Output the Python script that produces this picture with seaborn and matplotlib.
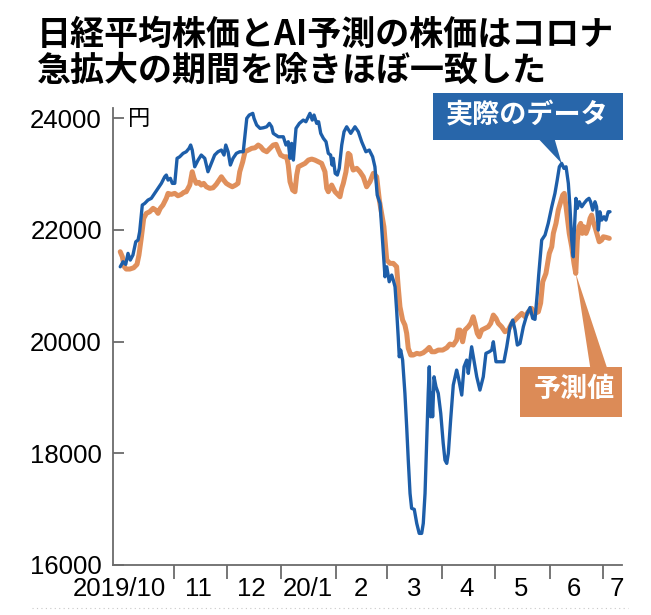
import numpy as np
import pandas as pd
import matplotlib
matplotlib.use("Agg")
import matplotlib.pyplot as plt
import matplotlib.dates as mdates
import matplotlib.transforms as mtransforms
from matplotlib.patches import Rectangle
from matplotlib.lines import Line2D
import seaborn as sns

sns.set_theme(style="white")
plt.rcParams['font.family'] = ['Noto Sans CJK JP', 'DejaVu Sans']

# ---------------- data ----------------
START = '2019-10-01'   # day 0 of the day offsets below

actual_day = [0.7, 2.3, 3.8, 5.1, 6.4, 7.9, 9.5, 10.8, 11.7, 13.2,
              14.6, 16.4, 18.3, 20.2, 22.1, 24.0, 25.9, 26.8, 27.8, 29.1,
              30.2, 31.6, 32.9, 34.4, 36.3, 38.1, 39.7, 40.6, 41.5, 42.9,
              44.8, 46.6, 48.6, 50.4, 52.3, 54.2, 56.1, 58.0, 59.5, 60.5,
              61.8, 63.1, 64.6, 66.5, 68.4, 70.4, 72.4, 73.8, 75.8, 76.5,
              78.0, 79.9, 81.8, 83.7, 85.2, 86.5, 87.4, 90.3, 93.1, 94.6,
              95.9, 96.9, 97.8, 98.8, 100.3, 102.2, 104.4, 105.9, 108.2, 109.5,
              110.5, 112.0, 113.1, 114.3, 115.8, 117.3, 118.6, 119.9, 120.7, 121.4,
              122.5, 123.7, 124.8, 126.2, 127.5, 129.0, 131.3, 133.7, 135.6, 137.5,
              139.9, 141.8, 143.7, 145.0, 146.3, 147.9, 148.8, 150.1, 150.7, 151.7,
              153.1, 154.5, 155.4, 156.4, 157.3, 158.2, 158.8, 159.6, 160.7, 162.0,
              163.0, 163.9, 164.9, 165.8, 167.3, 168.7, 170.1, 171.5, 172.4, 173.4,
              174.3, 175.2, 175.8, 176.6, 177.2, 177.7, 178.5, 179.6, 180.9, 182.3,
              183.7, 184.7, 185.7, 186.6, 187.9, 189.4, 191.3, 192.2, 194.2, 195.5,
              197.0, 197.9, 199.8, 201.1, 202.7, 204.5, 206.4, 207.9, 209.8, 211.2,
              212.1, 213.6, 215.9, 218.1, 219.7, 221.5, 223.1, 224.4, 225.7, 227.2,
              229.1, 231.3, 232.9, 234.4, 235.7, 237.0, 237.8, 239.5, 241.4, 243.2,
              245.2, 247.0, 248.3, 249.5, 250.8, 252.1, 253.3, 254.6, 255.5, 256.5,
              257.4, 258.0, 258.9, 259.7, 260.8, 262.2, 263.5, 265.0, 266.3, 267.2,
              268.4, 269.7, 270.6, 271.6, 272.5, 273.5, 274.8, 275.9, 277.2, 278.2]

actual_val = [21338, 21428, 21381, 21578, 21458, 21548, 21786, 21816, 21965, 22443,
              22473, 22532, 22563, 22652, 22742, 22831, 22949, 22980, 22890, 22921,
              22831, 22831, 23279, 23307, 23368, 23397, 23458, 23517, 23427, 23128,
              23248, 23338, 23279, 23039, 23189, 23338, 23397, 23427, 23338, 23517,
              23397, 23159, 23279, 23368, 23397, 23397, 23995, 24054, 24084, 23995,
              23875, 23816, 23826, 23844, 23905, 23844, 23726, 23665, 23665, 23517,
              23576, 23279, 23547, 23248, 23816, 23905, 23964, 23934, 24084, 23964,
              24054, 23905, 23934, 23726, 23637, 23576, 23368, 23338, 23159, 23279,
              23010, 22980, 23100, 23517, 23755, 23844, 23726, 23844, 23755, 23576,
              23397, 23427, 23307, 23128, 22622, 22473, 22054, 21458, 21159, 21338,
              21070, 21190, 21100, 20980, 20563, 20085, 19727, 19847, 19668, 19072,
              18474, 17878, 17282, 17014, 16996, 16745, 16566, 16566, 16745, 17282,
              18177, 19072, 19548, 18653, 19072, 18653, 19369, 19190, 19072, 18714,
              18177, 17878, 17819, 17998, 18594, 19221, 19489, 19369, 19042, 19548,
              19668, 19430, 19906, 19668, 19369, 19131, 19369, 19788, 19817, 19847,
              19996, 19638, 19638, 19638, 19906, 20264, 20384, 20205, 19937, 19966,
              20264, 20504, 20608, 20415, 20397, 20862, 21190, 21816, 21906, 22115,
              22412, 22652, 22890, 23128, 23189, 23100, 23128, 22831, 22412, 21816,
              21517, 21995, 22563, 22384, 22502, 22412, 22473, 22532, 22563, 22502,
              22353, 22502, 22412, 21995, 22323, 22174, 22233, 22174, 22323, 22323]

pred_day = [0.7, 1.9, 3.0, 4.1, 6.1, 8.3, 10.2, 11.3, 12.6, 14.0,
            15.5, 17.4, 19.3, 20.8, 22.1, 23.4, 24.9, 26.8, 27.8, 29.6,
            31.6, 33.4, 35.3, 36.7, 38.1, 40.1, 41.5, 42.5, 43.8, 45.3,
            46.6, 48.0, 49.5, 51.4, 53.3, 55.1, 56.7, 58.0, 59.3, 60.8,
            62.3, 64.2, 66.1, 67.4, 68.4, 70.1, 71.4, 73.3, 75.2, 77.1,
            78.9, 80.3, 81.8, 83.7, 85.6, 87.4, 89.0, 90.3, 91.6, 93.5,
            95.0, 95.9, 96.9, 98.4, 99.7, 100.7, 101.6, 103.5, 105.4, 107.3,
            109.2, 111.0, 112.9, 114.8, 116.7, 117.7, 118.6, 120.5, 122.4, 124.2,
            125.2, 126.2, 127.1, 128.6, 129.9, 130.9, 131.8, 132.7, 134.7, 136.5,
            138.4, 140.3, 142.2, 144.1, 146.0, 147.5, 148.8, 150.1, 151.7, 153.5,
            155.4, 157.3, 158.2, 159.2, 160.7, 162.0, 163.0, 163.9, 165.3, 166.7,
            168.7, 170.5, 172.4, 174.3, 175.8, 177.2, 179.0, 180.9, 183.4, 185.7,
            187.5, 189.4, 191.3, 192.2, 193.2, 194.7, 196.0, 197.9, 199.3, 200.7,
            201.7, 203.0, 204.1, 205.5, 207.4, 209.2, 210.6, 212.1, 213.6, 214.9,
            216.8, 218.7, 220.6, 222.5, 224.4, 226.2, 228.2, 230.0, 231.9, 233.8,
            235.7, 237.6, 238.9, 240.1, 241.9, 243.8, 245.2, 246.1, 247.6, 248.9,
            250.3, 251.4, 252.3, 253.3, 254.2, 255.1, 256.5, 257.8, 258.8, 259.7,
            260.6, 261.6, 262.5, 263.5, 264.6, 265.7, 266.9, 267.8, 268.7, 269.9,
            271.0, 272.1, 273.5, 274.4, 275.9, 277.8]

pred_val = [21607, 21517, 21338, 21297, 21297, 21320, 21381, 21548, 21847, 22205,
            22294, 22323, 22384, 22353, 22294, 22384, 22443, 22563, 22652, 22634,
            22652, 22609, 22634, 22670, 22681, 22801, 23039, 22921, 22831, 22849,
            22801, 22831, 22770, 22742, 22752, 22813, 22890, 22949, 22890, 22831,
            22801, 22770, 22801, 22831, 23039, 23218, 23397, 23427, 23458, 23468,
            23517, 23486, 23427, 23397, 23458, 23517, 23529, 23427, 23338, 23307,
            23307, 23159, 22860, 22711, 22681, 22980, 23128, 23159, 23189, 23248,
            23266, 23248, 23218, 23189, 23039, 22742, 22681, 22801, 22681, 22622,
            22591, 22742, 22831, 23039, 23368, 23338, 23159, 23069, 23100, 23039,
            22949, 22770, 22860, 23010, 22949, 22532, 22294, 22054, 21458, 21399,
            21399, 21338, 20980, 20622, 20384, 20295, 20146, 19878, 19758, 19758,
            19788, 19776, 19799, 19847, 19895, 19817, 19817, 19847, 19847, 19888,
            19955, 19937, 20026, 20205, 20205, 19996, 20205, 20264, 20325, 20443,
            20325, 20146, 20085, 20205, 20236, 20264, 20325, 20474, 20415, 20325,
            20264, 20175, 20205, 20325, 20384, 20443, 20504, 20443, 20533, 20594,
            20504, 20533, 20688, 21070, 21220, 21578, 21696, 21936, 22115, 22353,
            22502, 22622, 22652, 22412, 22174, 21936, 21696, 21399, 21220, 21816,
            22054, 22115, 21936, 22054, 21936, 22026, 22205, 22264, 22144, 22026,
            21906, 21786, 21816, 21875, 21865, 21847]

month_starts = ['2019-11-01', '2019-12-01', '2020-01-01', '2020-02-01', '2020-03-01',
                '2020-04-01', '2020-05-01', '2020-06-01', '2020-07-01']
label_dates = ['2019-10-01', '2019-11-15', '2019-12-15', '2020-01-16', '2020-02-15',
               '2020-03-16', '2020-04-15', '2020-05-16', '2020-06-15', '2020-07-09']
x_labels = ['2019/10', '11', '12', '20/1', '2', '3', '4', '5', '6', '7']
y_ticks = [16000, 18000, 20000, 22000, 24000]
unit_label = '円'
title_lines = ['日経平均株価とAI予測の株価はコロナ', '急拡大の期間を除きほぼ一致した']
label_actual = '実際のデータ'
label_pred = '予測値'

# ---------------- styling ----------------
BLUE = '#1d5ea9'
BOX_BLUE = '#2866aa'
ORANGE = '#e08f5b'
BOX_ORANGE = '#dc8b57'
GRAY = '#6b6b6b'
NUM_FONT = ['Liberation Sans Narrow', 'Liberation Sans', 'DejaVu Sans']
NUM_SIZE = 18.5
W, H = 651, 615

origin = pd.Timestamp(START)
df_a = pd.DataFrame({'date': origin + pd.to_timedelta(actual_day, unit='D'),
                     'price': actual_val})
df_p = pd.DataFrame({'date': origin + pd.to_timedelta(pred_day, unit='D'),
                     'price': pred_val})

fig = plt.figure(figsize=(W / 100, H / 100), dpi=100)
fig.patch.set_facecolor('white')
ax = fig.add_axes([113 / W, 50 / H, 509 / W, 457 / H])

sns.lineplot(data=df_p, x='date', y='price', ax=ax, color=ORANGE, linewidth=3.6,
             estimator=None, sort=False)
sns.lineplot(data=df_a, x='date', y='price', ax=ax, color=BLUE, linewidth=2.4,
             estimator=None, sort=False)

ax.set_xlim(mdates.date2num(origin - pd.Timedelta(days=3.4)),
            mdates.date2num(origin + pd.Timedelta(days=285)))
ax.set_ylim(16000, 24180)
ax.set_xlabel('')
ax.set_ylabel('')

# y axis
ax.set_yticks(y_ticks)
ax.set_yticklabels([str(v) for v in y_ticks], fontsize=NUM_SIZE, family=NUM_FONT, color='black')
ax.tick_params(axis='y', direction='in', length=8, width=1.3, color=GRAY, pad=8, left=True)

# x axis: month boundary ticks + centred labels
ax.set_xticks(mdates.date2num(pd.to_datetime(month_starts)))
ax.set_xticklabels([''] * len(month_starts))
ax.set_xticks(mdates.date2num(pd.to_datetime(label_dates)), minor=True)
ax.set_xticklabels(x_labels, minor=True, fontsize=NUM_SIZE, family=NUM_FONT, color='black')
ax.tick_params(axis='x', which='major', direction='out', length=10, width=1.3,
               color=GRAY, bottom=True)
ax.tick_params(axis='x', which='minor', length=0, pad=9, bottom=True)

sns.despine(ax=ax)
for s in ('left', 'bottom'):
    ax.spines[s].set_color(GRAY)
    ax.spines[s].set_linewidth(1.3)
ax.grid(False)

trans = mtransforms.blended_transform_factory(ax.transAxes, ax.transData)
ax.text(0.03, y_ticks[-1], unit_label, transform=trans, fontsize=16,
        va='center', ha='left', color='black')

# title
fig.text(37 / W, 1 - 17 / H, title_lines[0], fontsize=24.5, fontweight='bold',
         va='top', ha='left', color='black')
fig.text(37 / W, 1 - 53 / H, title_lines[1], fontsize=24.5, fontweight='bold',
         va='top', ha='left', color='black')

# callout boxes
fig.add_artist(Rectangle((433 / W, (H - 140) / H), 190 / W, 47 / H,
                         transform=fig.transFigure, fc=BOX_BLUE, ec='none', zorder=5))
fig.text(527 / W, 1 - 115 / H, label_actual, color='white', fontsize=19.5,
         fontweight='bold', ha='center', va='center', zorder=6)
fig.add_artist(Rectangle((520 / W, (H - 417) / H), 102 / W, 50 / H,
                         transform=fig.transFigure, fc=BOX_ORANGE, ec='none', zorder=5))
fig.text(574 / W, 1 - 389 / H, label_pred, color='white', fontsize=19.5,
         fontweight='bold', ha='center', va='center', zorder=6)

# pointers to the June peak / dip
a_day = np.array(actual_day); a_val = np.array(actual_val)
p_day = np.array(pred_day); p_val = np.array(pred_val)
ia = np.where(a_day > 240)[0][np.argmax(a_val[a_day > 240])]
ip = np.where(p_day > 255)[0][np.argmin(p_val[p_day > 255])]
tip_a = (mdates.date2num(origin + pd.Timedelta(days=float(a_day[ia]))), a_val[ia])
tip_p = (mdates.date2num(origin + pd.Timedelta(days=float(p_day[ip]))), p_val[ip])

ax.annotate('', xy=tip_a, xycoords='data', xytext=(546, H - 136),
            textcoords='figure pixels', annotation_clip=False,
            arrowprops=dict(arrowstyle='wedge,tail_width=1.1,shrink_factor=0.5',
                            fc=BOX_BLUE, ec='none', mutation_scale=10,
                            shrinkA=0, shrinkB=0))
ax.annotate('', xy=tip_p, xycoords='data', xytext=(599, H - 370),
            textcoords='figure pixels', annotation_clip=False,
            arrowprops=dict(arrowstyle='wedge,tail_width=1.2,shrink_factor=0.5',
                            fc=BOX_ORANGE, ec='none', mutation_scale=10,
                            shrinkA=0, shrinkB=0))

# faint dotted rule at the very bottom
fig.add_artist(Line2D([32 / W, 628 / W], [7 / H, 7 / H], transform=fig.transFigure,
                      color='#c8c8c8', linestyle=(0, (1, 3)), linewidth=0.8))

fig.savefig('out.png', dpi=100, facecolor='white')
